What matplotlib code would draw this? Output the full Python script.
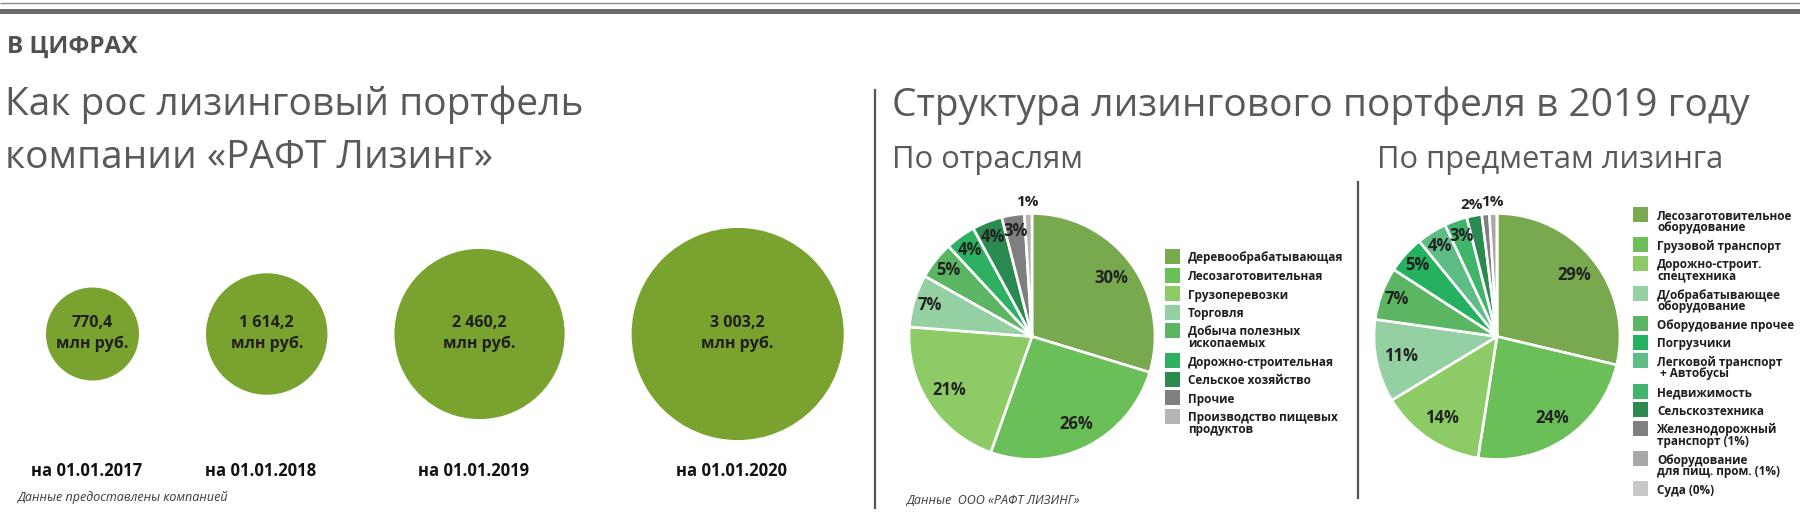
import math
import matplotlib
matplotlib.use("Agg")
import matplotlib.pyplot as plt
from matplotlib.patches import Circle, Rectangle

# ---------------- data ----------------
portfolio_dates = ["на 01.01.2017", "на 01.01.2018", "на 01.01.2019", "на 01.01.2020"]
portfolio_values = [770.4, 1614.2, 2460.2, 3003.2]          # млн руб.
portfolio_texts = ["770,4", "1 614,2", "2 460,2", "3 003,2"]

industry_labels = ["Деревообрабатывающая", "Лесозаготовительная", "Грузоперевозки",
                   "Торговля", "Добыча полезных\nископаемых", "Дорожно-строительная",
                   "Сельское хозяйство", "Прочие", "Производство пищевых\nпродуктов"]
industry_values = [30, 26, 21, 7, 5, 4, 4, 3, 1]

asset_labels = ["Лесозаготовительное\nоборудование", "Грузовой транспорт",
                "Дорожно-строит.\nспецтехника", "Д/обрабатывающее\nоборудование",
                "Оборудование прочее", "Погрузчики", "Легковой транспорт\n + Автобусы",
                "Недвижимость", "Сельскозтехника", "Железнодорожный\nтранспорт (1%)",
                "Оборудование\nдля пищ. пром. (1%)", "Суда (0%)"]
asset_values = [29, 24, 14, 11, 7, 5, 4, 3, 2, 1, 1, 0]

# ---------------- style ----------------
W, H = 1800, 523
FONT = "Open Sans"
plt.rcParams["font.family"] = [FONT, "DejaVu Sans"]
GRAY_T = "#595959"
DARK = "#1f1f1f"
BUBBLE = "#7aa22f"

industry_colors = ["#78a94f", "#6abf59", "#8ccb66", "#94d0a2", "#5cb563",
                   "#2eb063", "#2b8a4f", "#7f7f7f", "#b5b5b8"]
asset_colors = ["#78a94f", "#6abf59", "#8ccb66", "#94d0a2", "#5cb563", "#25b15f",
                "#5dbd85", "#40b46a", "#2b8a4f", "#7f7f7f", "#a8a8a8", "#c8c8c8"]

fig = plt.figure(figsize=(W / 100, H / 100), dpi=100)
fig.patch.set_facecolor("white")

# overlay axes in pixel coordinates
ov = fig.add_axes([0, 0, 1, 1])
ov.set_xlim(0, W)
ov.set_ylim(H, 0)
ov.axis("off")

# top rules
ov.plot([0, W], [3.3, 3.3], color="#8a8a8a", lw=1.0, solid_capstyle="butt")
ov.add_patch(Rectangle((0, 8.8), W, 5.2, color="#6a6a6a", lw=0))

ov.text(7, 53, "В ЦИФРАХ", fontsize=17.5, fontweight="bold", color="#505050",
        ha="left", va="baseline")

ov.text(5, 115, "Как рос лизинговый портфель", fontsize=28, color=GRAY_T,
        ha="left", va="baseline")
ov.text(5, 168, "компании «РАФТ Лизинг»", fontsize=28, color=GRAY_T,
        ha="left", va="baseline")

ov.text(892, 116, "Структура лизингового портфеля в 2019 году", fontsize=28,
        color=GRAY_T, ha="left", va="baseline")
ov.text(892, 168, "По отраслям", fontsize=22.3, color=GRAY_T, ha="left", va="baseline")
ov.text(1377, 168, "По предметам лизинга", fontsize=22.2, color=GRAY_T,
        ha="left", va="baseline")

# dividers
ov.plot([874.5, 874.5], [90, 508], color="#555555", lw=1.6)
ov.plot([1358, 1358], [182, 498], color="#555555", lw=1.6)

# ---------------- bubbles ----------------
# radius scale of the graphic (px): r = R0 + K * value^2
R0, K = 42.3, 7.07e-6
GAP = 67
radii = [R0 + K * v ** 2 for v in portfolio_values]
cy = 334
xs = []
for i, r in enumerate(radii):
    if i == 0:
        xs.append(46 + r)
    else:
        xs.append(xs[-1] + radii[i - 1] + GAP + r)
for xc, r, t, d in zip(xs, radii, portfolio_texts, portfolio_dates):
    ov.add_patch(Circle((xc, cy), r, color=BUBBLE, lw=0))
    ov.text(xc, 323, t, fontsize=11.5, fontweight="bold", color=DARK,
            ha="center", va="center")
    ov.text(xc, 344, "млн руб.", fontsize=11.5, fontweight="bold", color=DARK,
            ha="center", va="center")
    ov.text(xc - 6, 471, d, fontsize=12, fontweight="bold", color="#111111",
            ha="center", va="center")

ov.text(17, 498, "Данные предоставлены компанией", fontsize=9, style="italic",
        color="#3a3a3a", ha="left", va="center")
ov.text(906, 500, "Данные  ООО «РАФТ ЛИЗИНГ»", fontsize=9, style="italic",
        color="#3a3a3a", ha="left", va="center")


# ---------------- pies ----------------
def pie_axes(cx, cy, r):
    return fig.add_axes([(cx - r) / W, 1 - (cy + r) / H, 2 * r / W, 2 * r / H])


def draw_pie(ax, values, colors, label_items):
    wedges, _ = ax.pie(values, colors=colors, startangle=90, counterclock=False,
                       radius=1, wedgeprops=dict(edgecolor="white", linewidth=1.9))
    ax.set_xlim(-1, 1)
    ax.set_ylim(-1, 1)
    ax.set_aspect("equal")
    ax.axis("off")
    for i, text in label_items:
        w = wedges[i]
        ang = math.radians((w.theta1 + w.theta2) / 2)
        v = values[i]
        if v <= 2:
            dist, fs = 1.09, 11
        elif v >= 10:
            dist, fs = 0.80, 12
        else:
            dist, fs = 0.87, 12
        ax.text(dist * math.cos(ang), dist * math.sin(ang), text, fontsize=fs,
                fontweight="bold", color="#222222", ha="center", va="center")


ax1 = pie_axes(1032, 336.5, 123)
draw_pie(ax1, industry_values, industry_colors,
         [(i, f"{v}%") for i, v in enumerate(industry_values)])

ax2 = pie_axes(1497, 336.5, 123)
items2 = [(i, f"{v}%") for i, v in enumerate(asset_values[:9])]
items2.append((10, f"{asset_values[10]}%"))   # one "1%" label for the two 1% slices
draw_pie(ax2, asset_values, asset_colors, items2)


# ---------------- legends ----------------
def draw_legend(x_sq, x_txt, y0, labels, colors):
    y = y0
    for lab, col in zip(labels, colors):
        lines = lab.split("\n")
        ov.add_patch(Rectangle((x_sq, y - 9), 15, 15, color=col, lw=0))
        for k, ln in enumerate(lines):
            ov.text(x_txt, y + 11.5 * k, ln, fontsize=8.5, fontweight="bold",
                    color="#1e1e1e", ha="left", va="center")
        y += 18.5 + 11.8 * (len(lines) - 1)


draw_legend(1165, 1188, 258, industry_labels, industry_colors)
draw_legend(1633, 1657, 216, asset_labels, asset_colors)

fig.savefig("out.png", dpi=100, facecolor="white")
